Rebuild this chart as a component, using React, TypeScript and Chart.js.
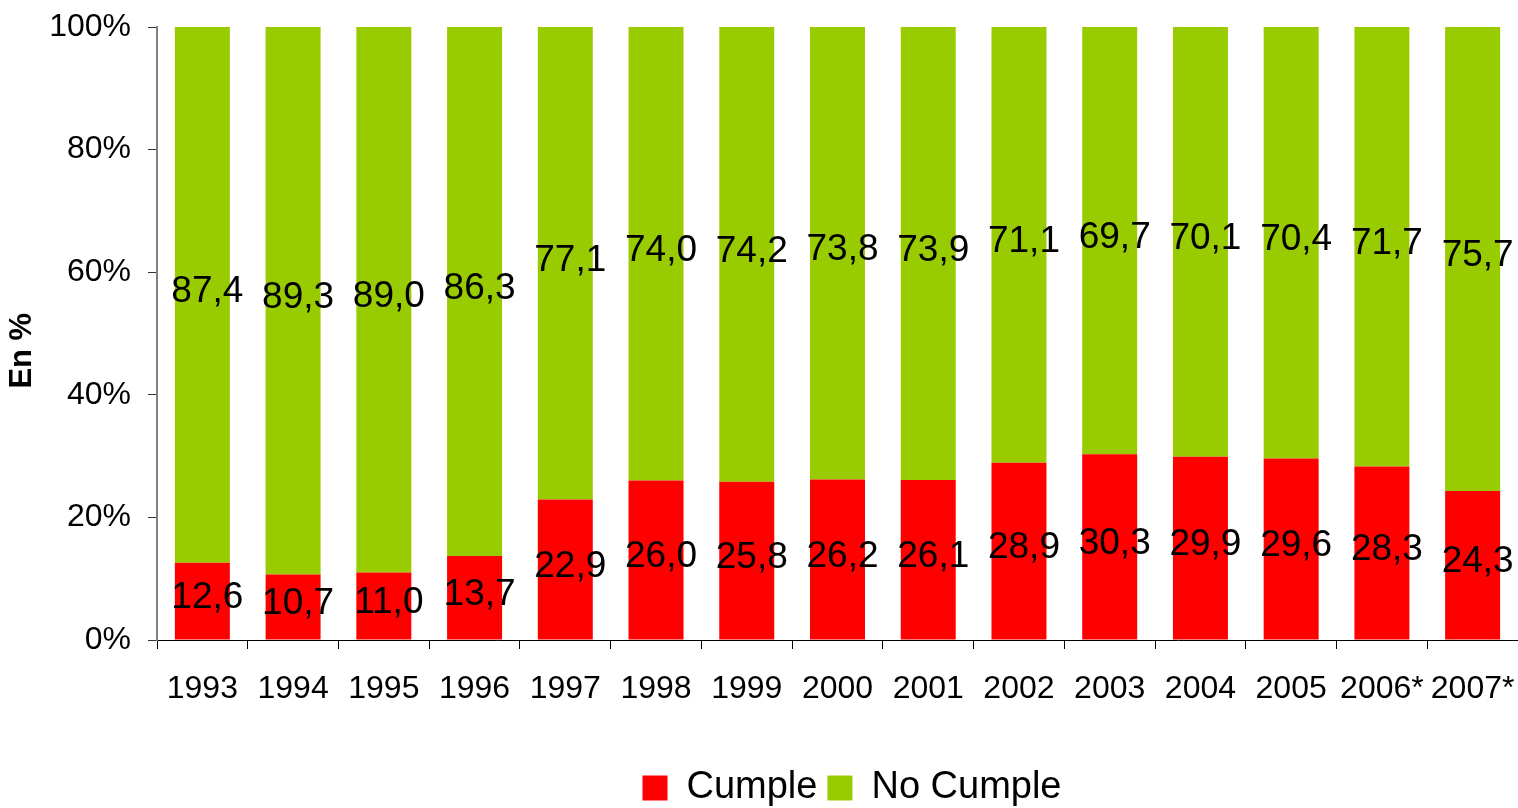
import React, { useEffect, useRef } from "react";
import { Chart, registerables } from "chart.js";

Chart.register(...registerables);

const categories = ["1993", "1994", "1995", "1996", "1997", "1998", "1999", "2000", "2001", "2002", "2003", "2004", "2005", "2006*", "2007*"];
const cumple = [12.6, 10.7, 11.0, 13.7, 22.9, 26.0, 25.8, 26.2, 26.1, 28.9, 30.3, 29.9, 29.6, 28.3, 24.3];
const noCumple = [87.4, 89.3, 89.0, 86.3, 77.1, 74.0, 74.2, 73.8, 73.9, 71.1, 69.7, 70.1, 70.4, 71.7, 75.7];
const yTicks = [0, 20, 40, 60, 80, 100];

const FONT = '"Liberation Sans", Arial, sans-serif';

const fmt = (v: number) => v.toFixed(1).replace(".", ",");

const dataLabels = {
  id: "dataLabels",
  afterDatasetsDraw(chart: any) {
    const ctx = chart.ctx;
    ctx.save();
    ctx.font = `37px ${FONT}`;
    ctx.fillStyle = "#000";
    ctx.textAlign = "center";
    ctx.textBaseline = "middle";
    chart.data.datasets.forEach((ds: any, i: number) => {
      const meta = chart.getDatasetMeta(i);
      meta.data.forEach((bar: any, j: number) => {
        const p = bar.getProps(["x", "y", "base"], true);
        ctx.fillText(fmt(ds.data[j]), p.x + 5, (p.y + p.base) / 2 - 3);
      });
    });
    ctx.restore();
  },
};

const legendShift = {
  id: "legendShift",
  afterLayout(chart: any) {
    const lg = chart.legend;
    if (!lg) return;
    const dx = 852 - (lg.left + lg.right) / 2;
    lg.left += dx;
    lg.right += dx;
  },
};

export default function App() {
  const ref = useRef<HTMLCanvasElement | null>(null);
  useEffect(() => {
    if (!ref.current) return;
    Chart.defaults.font.family = FONT;
    const chart = new Chart(ref.current, {
      type: "bar",
      data: {
        labels: categories,
        datasets: [
          {
            label: "Cumple",
            data: cumple,
            backgroundColor: "#FF0000",
            borderWidth: 0,
            barPercentage: 0.606,
            categoryPercentage: 1,
          },
          {
            label: "No Cumple",
            data: noCumple,
            backgroundColor: "#99CC00",
            borderWidth: 0,
            barPercentage: 0.606,
            categoryPercentage: 1,
          },
        ],
      },
      options: {
        animation: false,
        responsive: true,
        maintainAspectRatio: false,
        layout: { padding: { top: 27, left: 0, right: 0, bottom: 0 } },
        plugins: {
          legend: {
            position: "bottom",
            maxHeight: 49,
            labels: {
              boxWidth: 25,
              boxHeight: 25,
              padding: 10,
              color: "#000",
              font: { size: 38, family: FONT },
            },
          },
          tooltip: { enabled: false },
        },
        scales: {
          x: {
            stacked: true,
            offset: true,
            border: { display: true, color: "#000", width: 1 },
            grid: {
              display: true,
              drawOnChartArea: false,
              drawTicks: true,
              tickLength: 9,
              offset: true,
              color: "#000",
            },
            ticks: {
              color: "#000",
              font: { size: 32, family: FONT },
              padding: 21,
              maxRotation: 0,
              autoSkip: false,
            },
            afterFit(scale: any) {
              scale.height = 119;
              scale.paddingLeft = 0;
              scale.paddingRight = 0;
            },
          },
          y: {
            stacked: true,
            min: 0,
            max: 100,
            afterBuildTicks(scale: any) {
              scale.ticks = yTicks.map((v) => ({ value: v }));
            },
            border: { display: true, color: "#808080", width: 2 },
            grid: {
              display: true,
              drawOnChartArea: false,
              drawTicks: true,
              tickLength: 9,
              color: "#333",
            },
            ticks: {
              color: "#000",
              font: { size: 32, family: FONT },
              padding: 17,
              callback: (v: any) => `${v}%`,
            },
            title: {
              display: true,
              text: "En %    ",
              color: "#000",
              font: { size: 31, weight: "bold", family: FONT },
              padding: { top: 4, bottom: 0 },
            },
            afterFit(scale: any) {
              scale.width = 157;
              scale.paddingTop = 0;
              scale.paddingBottom = 0;
            },
          },
        },
      },
      plugins: [dataLabels, legendShift],
    });
    return () => chart.destroy();
  }, []);
  return (
    <div style={{ position: "absolute", left: 0, top: 0, width: 1518, height: 808 }}>
      <canvas ref={ref} />
    </div>
  );
}
